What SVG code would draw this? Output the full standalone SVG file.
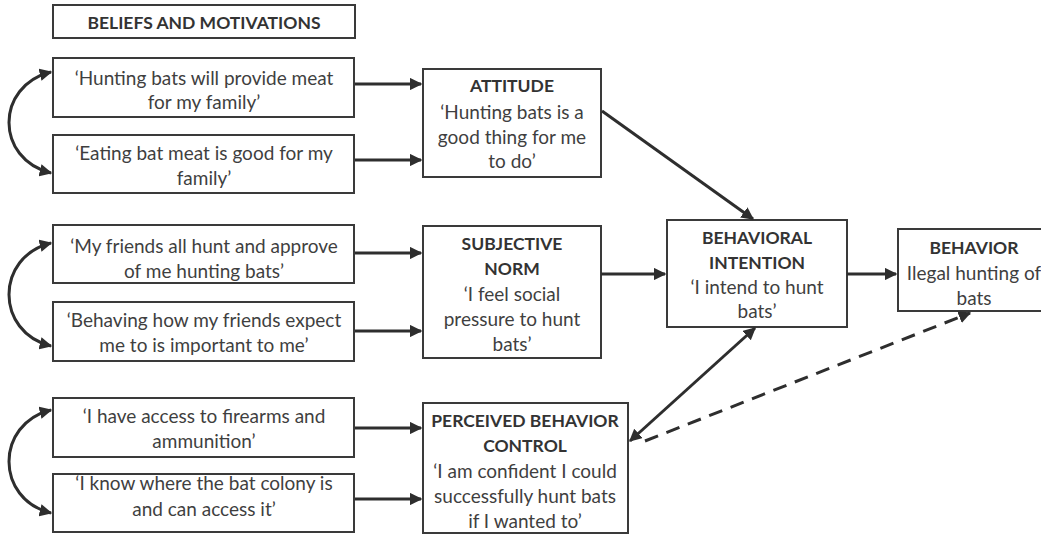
<svg xmlns="http://www.w3.org/2000/svg" width="1041" height="535" viewBox="0 0 1041 535">
<style>
.box{fill:#fff;stroke:#3a3a3a;stroke-width:2}
text{font-family:Lato,"Open Sans","Liberation Sans",sans-serif;font-size:19px;fill:#3f3f3f;text-anchor:middle;dominant-baseline:central}
.b{font-weight:bold;fill:#333;font-size:17.5px}
.c{fill:none;stroke:#2e2e2e;stroke-width:3}
.d{stroke-dasharray:14 9}
</style>
<defs>
<marker id="ah" viewBox="0 0 10 10" refX="9" refY="5" markerWidth="4.2" markerHeight="4.2" orient="auto-start-reverse" markerUnits="strokeWidth">
<path d="M0,0 L10,5 L0,10 Z" fill="#2e2e2e"/>
</marker>
</defs>
<rect width="1041" height="535" fill="#fff"/>
<g id="beliefs-title"><rect class="box" x="53" y="5" width="302" height="33"/><text class="b" x="204" y="22">BELIEFS AND MOTIVATIONS</text></g>
<g id="belief1"><rect class="box" x="53" y="58" width="301" height="59"/><text x="204" y="77">‘Hunting bats will provide meat</text><text x="204" y="101">for my family’</text></g>
<g id="belief2"><rect class="box" x="53" y="135" width="301" height="58"/><text x="204" y="152">‘Eating bat meat is good for my</text><text x="204" y="177">family’</text></g>
<g id="belief3"><rect class="box" x="53" y="225" width="301" height="58"/><text x="204" y="245">‘My friends all hunt and approve</text><text x="204" y="270">of me hunting bats’</text></g>
<g id="belief4"><rect class="box" x="53" y="302" width="301" height="59"/><text x="204" y="319">‘Behaving how my friends expect</text><text x="204" y="344">me to is important to me’</text></g>
<g id="belief5"><rect class="box" x="53" y="398" width="301" height="59"/><text x="204" y="415">‘I have access to firearms and</text><text x="204" y="440">ammunition’</text></g>
<g id="belief6"><rect class="box" x="53" y="474" width="301" height="58"/><text x="204" y="482">‘I know where the bat colony is</text><text x="204" y="508">and can access it’</text></g>
<g id="attitude"><rect class="box" x="423" y="69" width="178" height="108"/><text class="b" x="512" y="85">ATTITUDE</text><text x="512" y="111">‘Hunting bats is a</text><text x="512" y="136">good thing for me</text><text x="512" y="160">to do’</text></g>
<g id="subjective-norm"><rect class="box" x="423" y="226" width="178" height="132"/><text class="b" x="512" y="243">SUBJECTIVE</text><text class="b" x="512" y="268">NORM</text><text x="512" y="293">‘I feel social</text><text x="512" y="318">pressure to hunt</text><text x="512" y="343">bats’</text></g>
<g id="pbc"><rect class="box" x="423" y="403" width="205" height="130"/><text class="b" x="525" y="420">PERCEIVED BEHAVIOR</text><text class="b" x="525" y="445">CONTROL</text><text x="525" y="470">‘I am confident I could</text><text x="525" y="495">successfully hunt bats</text><text x="525" y="520">if I wanted to’</text></g>
<g id="intention"><rect class="box" x="667" y="220" width="180" height="107"/><text class="b" x="757" y="237">BEHAVIORAL</text><text class="b" x="757" y="262">INTENTION</text><text x="757" y="286">‘I intend to hunt</text><text x="757" y="310">bats’</text></g>
<g id="behavior"><rect class="box" x="898" y="229" width="152" height="82"/><text class="b" x="974" y="247">BEHAVIOR</text><text x="974" y="272">Ilegal hunting of</text><text x="974" y="297">bats</text></g>
<g id="connectors">
<path class="c" d="M355,84 H421" marker-end="url(#ah)"/>
<path class="c" d="M355,160 H421" marker-end="url(#ah)"/>
<path class="c" d="M355,253 H421" marker-end="url(#ah)"/>
<path class="c" d="M355,331 H421" marker-end="url(#ah)"/>
<path class="c" d="M355,428 H421" marker-end="url(#ah)"/>
<path class="c" d="M355,499 H421" marker-end="url(#ah)"/>
<path class="c" d="M601,274 H665" marker-end="url(#ah)"/>
<path class="c" d="M847,274 H896" marker-end="url(#ah)"/>
<path class="c" d="M602,111 L753,219" marker-end="url(#ah)"/>
<path class="c" d="M630,441 L755,328" marker-start="url(#ah)" marker-end="url(#ah)"/>
<path class="c d" d="M645,441 L970,313" marker-end="url(#ah)"/>
<path class="c" d="M51,72 C-5,86 -5,159 51,173" marker-start="url(#ah)" marker-end="url(#ah)"/>
<path class="c" d="M51,243 C-5,257 -5,332 51,346" marker-start="url(#ah)" marker-end="url(#ah)"/>
<path class="c" d="M51,410 C-5,424 -5,499 51,513" marker-start="url(#ah)" marker-end="url(#ah)"/>
</g>
</svg>
